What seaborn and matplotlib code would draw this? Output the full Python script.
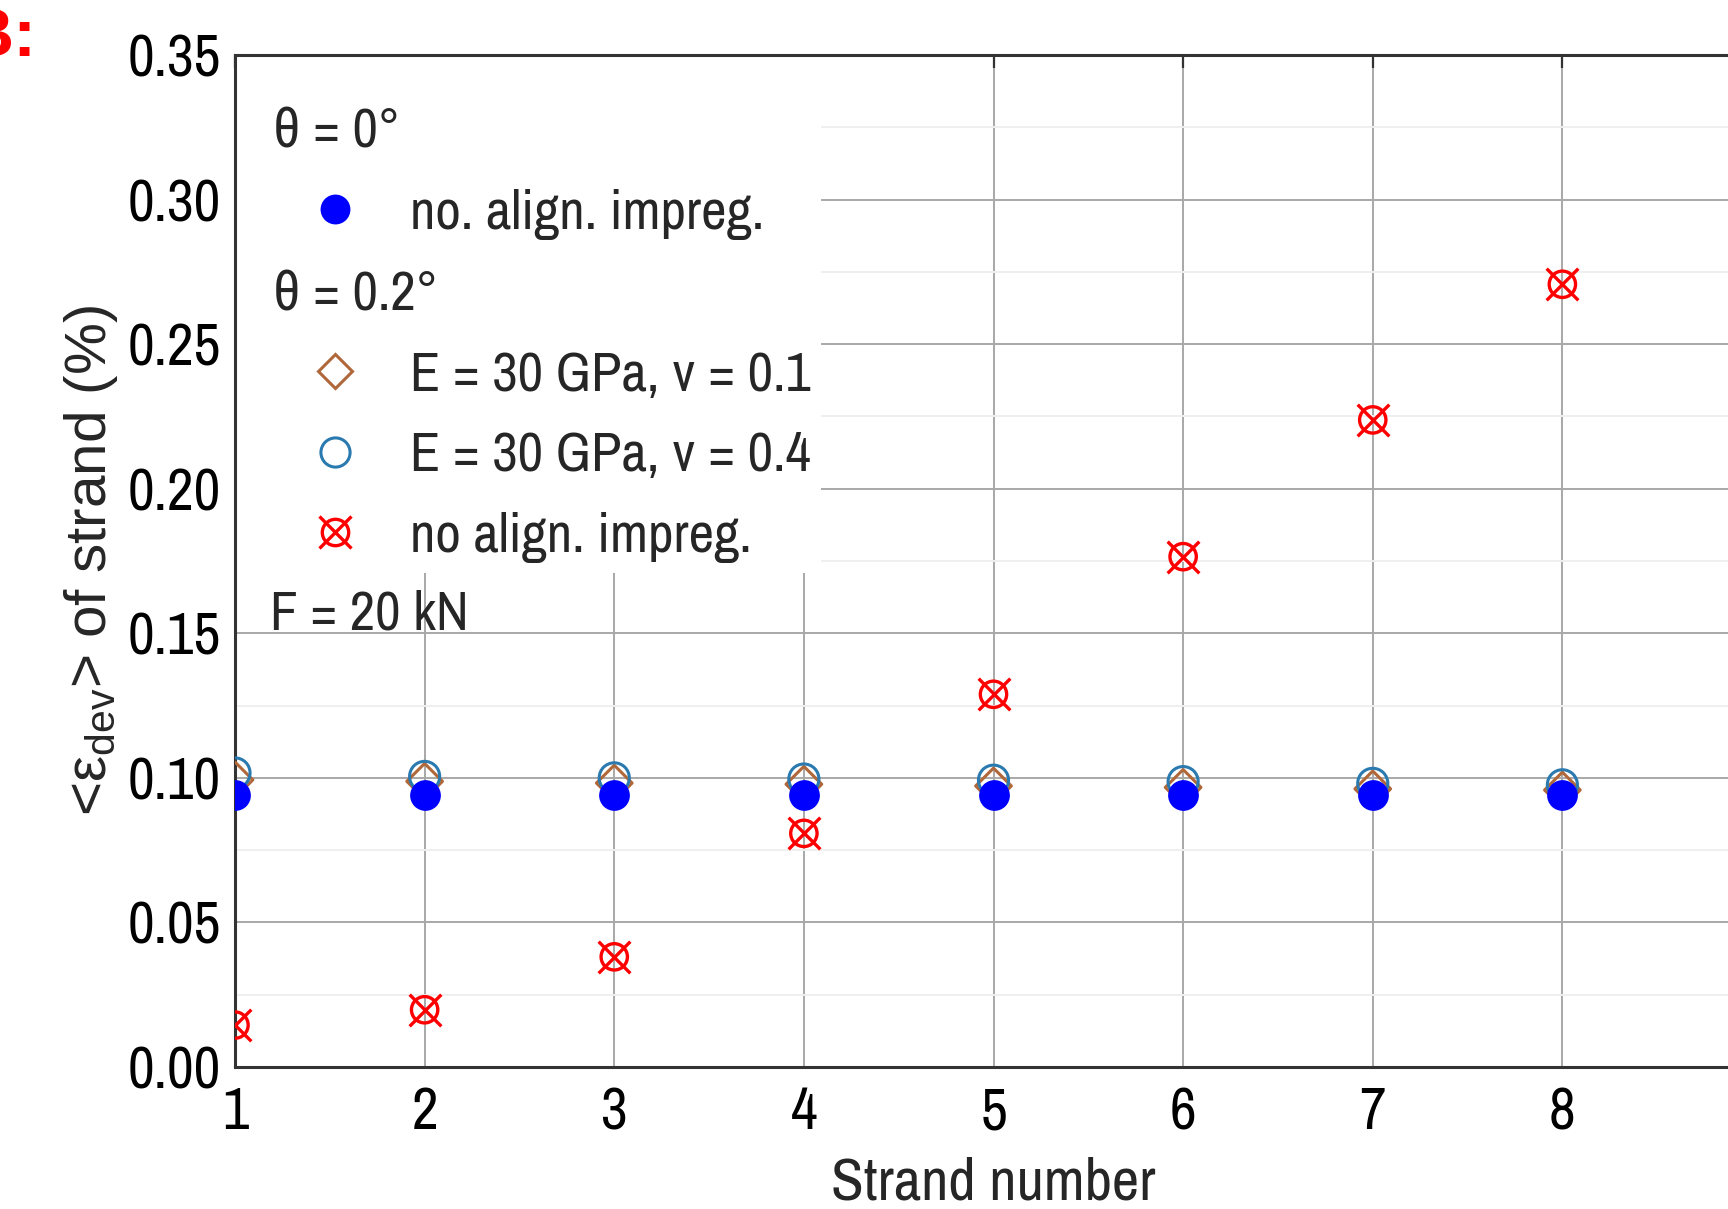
import numpy as np
import pandas as pd
import matplotlib
matplotlib.use("Agg")
import matplotlib.pyplot as plt
from matplotlib import font_manager as fm
from matplotlib.lines import Line2D
from matplotlib.patches import Rectangle
from matplotlib.ticker import MultipleLocator, FormatStrFormatter
import seaborn as sns

# ---------------- data ----------------
strand = [1, 2, 3, 4, 5, 6, 7, 8]
theta0_noalign = [0.094, 0.094, 0.094, 0.094, 0.094, 0.094, 0.094, 0.094]
e30_nu01 = [0.0993, 0.0988, 0.0982, 0.0978, 0.0972, 0.0967, 0.0962, 0.0958]
e30_nu04 = [0.1017, 0.1005, 0.1000, 0.0996, 0.0992, 0.0987, 0.0981, 0.0976]
theta02_noalign = [0.0145, 0.0198, 0.0381, 0.0808, 0.1289, 0.1765, 0.2238, 0.2707]

xticks = [1, 2, 3, 4, 5, 6, 7, 8]
yticks = [0.00, 0.05, 0.10, 0.15, 0.20, 0.25, 0.30, 0.35]

labels = ["no. align. impreg.", "E = 30 GPa, ν = 0.1", "E = 30 GPa, ν = 0.4", "no align. impreg."]
headings = ["θ = 0°", "θ = 0.2°"]
note = "F = 20 kN"

df = pd.DataFrame({
    "strand": strand,
    "t0": theta0_noalign,
    "nu01": e30_nu01,
    "nu04": e30_nu04,
    "t02": theta02_noalign,
})

# ---------------- fonts ----------------
def available(name):
    try:
        fm.findfont(fm.FontProperties(family=name), fallback_to_default=False)
        return True
    except Exception:
        return False

candidates = ["Arial Narrow", "Liberation Sans Narrow", "Archivo Narrow", "PT Sans Narrow",
              "Roboto Condensed", "IBM Plex Sans Condensed", "Open Sans Condensed"]
FONT = [c for c in candidates if available(c)] + ["Liberation Sans", "DejaVu Sans"]
FONT = [f for i, f in enumerate(FONT) if f not in FONT[:i] and available(f)]
LABEL_FONT = "Liberation Sans" if available("Liberation Sans") else "DejaVu Sans"

sns.set_theme(style="white")
plt.rcParams["font.family"] = FONT
plt.rcParams["mathtext.fontset"] = "custom"
plt.rcParams["mathtext.rm"] = LABEL_FONT
plt.rcParams["mathtext.it"] = LABEL_FONT + ":italic"

C_BLUE = "#0000ff"
C_DIAM = "#b0683a"
C_CIRC = "#2a7ab0"
C_RED = "#ff0000"

W, H = 1728, 1209
fig = plt.figure(figsize=(W / 100, H / 100), dpi=100)
ax_left, ax_right = 235 / W, 1752 / W
ax_bot, ax_top = 1 - 1067 / H, 1 - 55 / H
ax = fig.add_axes([ax_left, ax_bot, ax_right - ax_left, ax_top - ax_bot])

# markers
sns.scatterplot(data=df, x="strand", y="nu01", ax=ax, marker="D", s=330,
                facecolor="none", edgecolor=C_DIAM, linewidth=2.2, zorder=3, legend=False)
sns.scatterplot(data=df, x="strand", y="nu04", ax=ax, marker="o", s=470,
                facecolor="none", edgecolor=C_CIRC, linewidth=2.2, zorder=4, legend=False)
sns.scatterplot(data=df, x="strand", y="t0", ax=ax, marker="o", s=490,
                color=C_BLUE, edgecolor=C_BLUE, linewidth=0, zorder=5, legend=False)
sns.scatterplot(data=df, x="strand", y="t02", ax=ax, marker="o", s=360,
                facecolor="none", edgecolor=C_RED, linewidth=2.4, zorder=5, legend=False)
sns.scatterplot(data=df, x="strand", y="t02", ax=ax, marker="x", s=520,
                color=C_RED, linewidth=2.4, zorder=5, legend=False)

# axes
ax.set_xlim(1, 9)
ax.set_ylim(0, 0.35)
ax.set_xticks(xticks)
ax.set_yticks(yticks)
ax.yaxis.set_minor_locator(MultipleLocator(0.025))
ax.yaxis.set_major_formatter(FormatStrFormatter("%.2f"))
ax.grid(which="major", color="#a8a8a8", linewidth=1.4, zorder=0)
ax.grid(which="minor", axis="y", color="#efefef", linewidth=1.4, zorder=0)
ax.set_axisbelow(True)
for sp in ax.spines.values():
    sp.set_color("#333333")
    sp.set_linewidth(2.2)
ax.tick_params(which="both", direction="in", top=True, right=True, colors="#333333",
               labelcolor="black", labelsize=42, width=1.6)
ax.tick_params(which="major", length=9, pad=10)
ax.tick_params(axis="x", which="major", pad=14)
ax.tick_params(which="minor", length=5)

ax.set_xlabel("Strand number", fontsize=43, labelpad=12)
ax.set_ylabel(r"<ε$_{\mathrm{dev}}$> of strand (%)", fontsize=42, labelpad=6,
              family=[LABEL_FONT, "DejaVu Sans"])

# white legend background
ax.add_patch(Rectangle((0, 0.488), 0.386, 0.512, transform=ax.transAxes,
                       facecolor="white", edgecolor="none", zorder=1.5))

# legend
blank = Line2D([], [], linestyle="none", marker=None)
h_blue = Line2D([], [], linestyle="none", marker="o", markersize=21.5,
                markerfacecolor=C_BLUE, markeredgecolor=C_BLUE, markeredgewidth=0)
h_diam = Line2D([], [], linestyle="none", marker="D", markersize=17.5,
                markerfacecolor="none", markeredgecolor=C_DIAM, markeredgewidth=2.2)
h_circ = Line2D([], [], linestyle="none", marker="o", markersize=21,
                markerfacecolor="none", markeredgecolor=C_CIRC, markeredgewidth=2.2)
h_red_o = Line2D([], [], linestyle="none", marker="o", markersize=19,
                 markerfacecolor="none", markeredgecolor=C_RED, markeredgewidth=2.4)
h_red_x = Line2D([], [], linestyle="none", marker="x", markersize=22.5,
                 markeredgecolor=C_RED, markeredgewidth=2.4)

handles = [blank, h_blue, blank, h_diam, h_circ, (h_red_o, h_red_x)]
leg_labels = [headings[0], labels[0], headings[1], labels[1], labels[2], labels[3]]
fs = 40
fs_px = fs * 100 / 72
hl = 1.0
x_handle_left = 335 - hl * fs_px / 2
leg = ax.legend(handles, leg_labels, loc="upper left",
                bbox_to_anchor=((x_handle_left - 235) / 1517, (1067 - 108) / 1012),
                frameon=False, fontsize=fs, borderpad=0, borderaxespad=0,
                handlelength=hl, handletextpad=(410 - x_handle_left - hl * fs_px) / fs_px,
                labelspacing=0.55)
leg.set_zorder(6)
for t in leg.get_texts():
    if t.get_text() in headings:
        t.set_x(-(410 - 273))

ax.text((270 - 235) / 1517, (1067 - 614) / 1012, note, transform=ax.transAxes,
        fontsize=40, va="center", ha="left", zorder=6)

# panel label (partly cut off)
fig.text(36 / W, 1 - 6 / H, "B:", color=C_RED, fontsize=50, fontweight="bold",
         ha="right", va="top", family=["Liberation Sans", "DejaVu Sans"])

fig.savefig("out.png", dpi=100)
